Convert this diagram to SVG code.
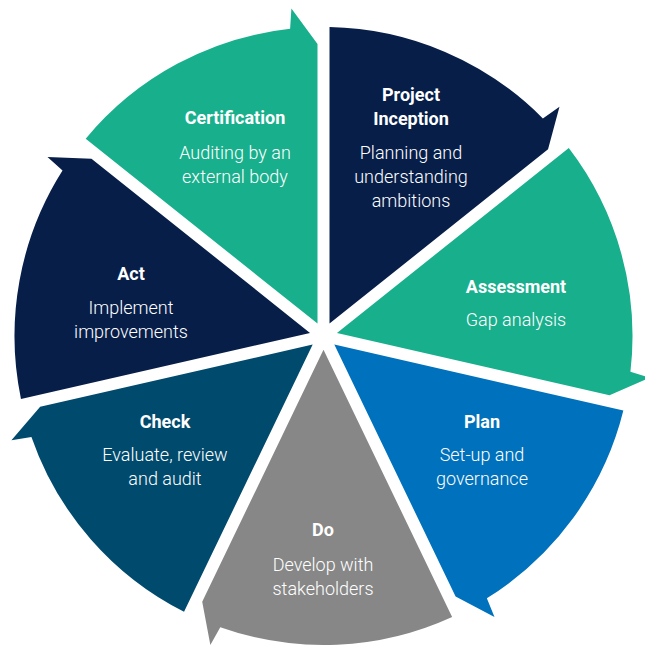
<svg xmlns="http://www.w3.org/2000/svg" xmlns:xlink="http://www.w3.org/1999/xlink" width="645" height="647" viewBox="0 0 645 647">
  <style>
    .t { font-family: Roboto, "Liberation Sans", sans-serif; font-size: 18px; font-weight: 700; fill: #ffffff; text-anchor: middle; }
    .b { font-family: Roboto, "Liberation Sans", sans-serif; font-size: 18px; font-weight: 300; fill: #ffffff; text-anchor: middle; }
    .teal { fill: #18AF8C; }
    .navy { fill: #071E49; }
    .blue { fill: #0071BC; }
    .gray { fill: #878787; }
    .dteal { fill: #004A6D; }
  </style>
  <defs>
    <path id="wedge" d="M12.46,-6 L197.32,-237.79 A309,309 0 0 1 307.19,-33.37 L327.43,-32.1 L292,-6 Z"/>
  </defs>
  <rect width="645" height="647" fill="#ffffff"/>
  <g id="connectors"/>
  <g id="project-inception">
    <use xlink:href="#wedge" class="navy" transform="translate(323.5,336) rotate(-38.571)"/>
    <text class="t" x="411" y="101">Project</text>
    <text class="t" x="411" y="125">Inception</text>
    <text class="b" x="411" y="159">Planning and</text>
    <text class="b" x="411" y="183">understanding</text>
    <text class="b" x="411" y="207">ambitions</text>
  </g>
  <g id="assessment">
    <use xlink:href="#wedge" class="teal" transform="translate(323.5,336) rotate(12.857)"/>
    <text class="t" x="516" y="293">Assessment</text>
    <text class="b" x="516" y="326">Gap analysis</text>
  </g>
  <g id="plan">
    <use xlink:href="#wedge" class="blue" transform="translate(323.5,336) rotate(64.286)"/>
    <text class="t" x="482" y="428">Plan</text>
    <text class="b" x="482" y="461">Set-up and</text>
    <text class="b" x="482" y="485">governance</text>
  </g>
  <g id="do">
    <use xlink:href="#wedge" class="gray" transform="translate(323.5,336) rotate(115.714)"/>
    <text class="t" x="323" y="536">Do</text>
    <text class="b" x="323" y="571">Develop with</text>
    <text class="b" x="323" y="595">stakeholders</text>
  </g>
  <g id="check">
    <use xlink:href="#wedge" class="dteal" transform="translate(323.5,336) rotate(167.143)"/>
    <text class="t" x="165" y="428">Check</text>
    <text class="b" x="165" y="461">Evaluate, review</text>
    <text class="b" x="165" y="485">and audit</text>
  </g>
  <g id="act">
    <use xlink:href="#wedge" class="navy" transform="translate(323.5,336) rotate(218.571)"/>
    <text class="t" x="131" y="280">Act</text>
    <text class="b" x="131" y="314">Implement</text>
    <text class="b" x="131" y="338">improvements</text>
  </g>
  <g id="certification">
    <use xlink:href="#wedge" class="teal" transform="translate(323.5,336) rotate(270)"/>
    <text class="t" x="235" y="124">Certification</text>
    <text class="b" x="235" y="159">Auditing by an</text>
    <text class="b" x="235" y="183">external body</text>
  </g>
</svg>
